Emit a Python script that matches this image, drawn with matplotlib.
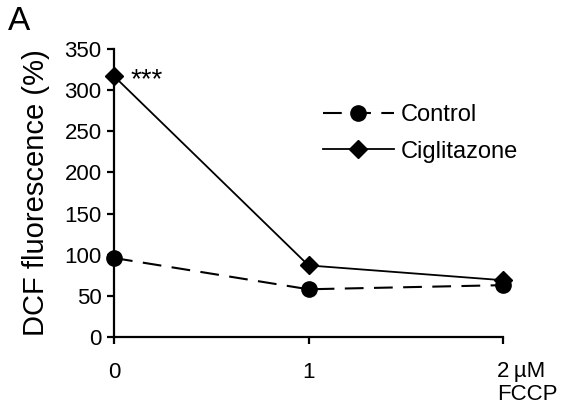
import matplotlib
matplotlib.use('Agg')
import matplotlib.pyplot as plt

plt.rcParams['font.family'] = ['Liberation Sans', 'DejaVu Sans']

# data
doses = [0, 1, 2]
dose_labels = ['0', '1', '']
control = [96, 58, 63]
ciglitazone = [317, 87, 69]

fig = plt.figure(figsize=(5.63, 4.08), dpi=100)
ax = fig.add_axes([114/563, 1 - 337/408, (503 - 114)/563, (337 - 49)/408])

ax.plot(doses, control, color='black', lw=1.5, dashes=(9, 5),
        marker='o', markersize=11, label='Control', clip_on=False, zorder=3)
ax.plot(doses, ciglitazone, color='black', lw=1.3,
        marker='D', markersize=9, label='Ciglitazone', clip_on=False, zorder=3)

ax.set_xlim(0, 2)
ax.set_ylim(0, 350)
ax.set_yticks(range(0, 351, 50))
ax.set_xticks(doses)
ax.set_xticklabels(dose_labels)

for side in ['top', 'right']:
   ax.spines[side].set_visible(False)
for side in ['left', 'bottom']:
   ax.spines[side].set_linewidth(1.6)
ax.tick_params(direction='out', length=5, width=1.6, labelsize=16)
ax.tick_params(axis='x', pad=13)
ax.tick_params(axis='y', pad=4)

ax.set_ylabel('DCF fluorescence (%)', fontsize=21, labelpad=10)

# last tick label with unit
ax.annotate('2\u2009µM\nFCCP', xy=(2, 0), xycoords='data', xytext=(-4, -17),
            textcoords='offset points', ha='left', va='top', fontsize=16,
            linespacing=1.15, annotation_clip=False)

# significance mark
ax.annotate('***', xy=(doses[0], ciglitazone[0]), xytext=(12, -3),
            textcoords='offset points', ha='left', va='center', fontsize=20)

fig.text(8/563, 1 - 6/408, 'A', fontsize=24, ha='left', va='top')

ax.legend(loc='upper left', bbox_to_anchor=(323/563, 1 - 104/408),
          bbox_transform=fig.transFigure, frameon=False, fontsize=17,
          handlelength=3.0, handletextpad=0.3, labelspacing=0.62,
          borderpad=0, borderaxespad=0)

fig.savefig('out.png', dpi=100)
